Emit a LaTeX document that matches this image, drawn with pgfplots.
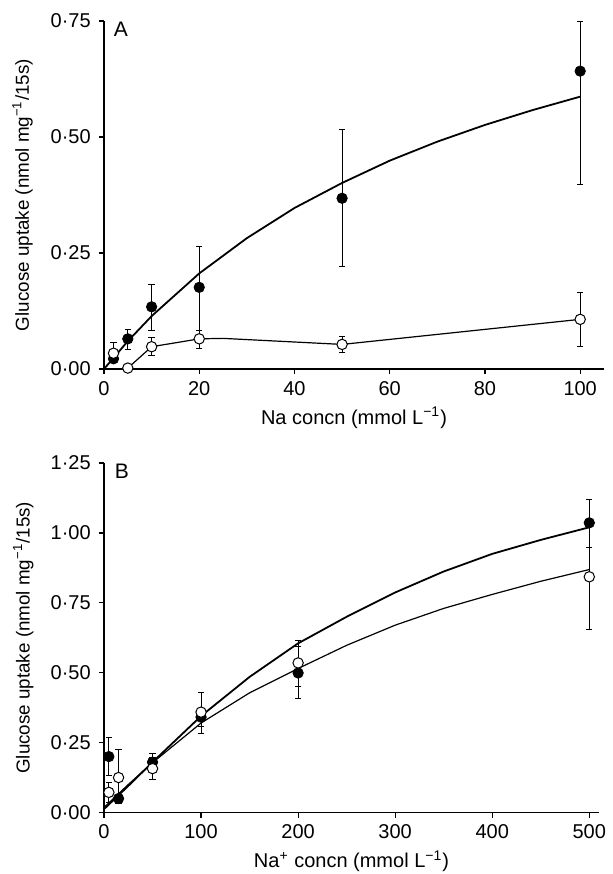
\documentclass[border=0pt]{standalone}
\usepackage{fontspec}
\setmainfont{Liberation Sans}
\usepackage{pgfplots}
\pgfplotsset{compat=1.18}

\pgfplotsset{
  panel/.style={
    scale only axis,
    axis lines=left,
    axis line style={-, line width=0.75pt},
    tick align=outside,
    major tick length=2.6pt,
    tick style={black, line width=0.6pt},
    ticklabel style={font=\fontsize{10}{12}\selectfont},
    yticklabel style={xshift=-0.5pt},
    /pgf/number format/assume math mode=true,
    xmin=0, ymin=0,
    clip=false,
    ylabel={Glucose uptake (nmol mg\textsuperscript{−1}/15s)},
    ylabel style={font=\fontsize{9.4}{11}\selectfont,
      at={(axis description cs:-0.163,0.5)}, anchor=center},
    xlabel style={font=\fontsize{10}{12}\selectfont,
      at={(axis description cs:0.5,0)}, anchor=base, yshift=-27.5pt},
  },
  fitline/.style={black, line width=0.9pt, no marks},
  thinline/.style={black, line width=0.6pt, no marks},
  bars/.style={
    only marks,
    error bars/y dir=both,
    error bars/y explicit,
    error bars/error bar style={black, line width=0.5pt},
    error bars/error mark options={rotate=90, mark size=1.6pt, line width=0.5pt, black},
  },
  filled/.style={bars, mark=*, mark size=2.6pt, mark options={fill=black, draw=black}},
  hollow/.style={bars, mark=*, mark size=2.6pt, mark options={fill=white, draw=black, line width=0.5pt}},
}

\begin{document}
\begin{tikzpicture}

% ---- panel A ----
\begin{axis}[panel,
    width=250pt, height=174pt,
    xmax=105, ymax=0.75,
    xtick={0,20,40,60,80,100},
    ytick={0,0.25,0.5,0.75},
    yticklabels={0·00,0·25,0·50,0·75},
    xlabel={Na concn (mmol L\textsuperscript{−1})},
]
\addplot[fitline] coordinates {
  (0,0) (5,0.060) (10,0.114) (20,0.206) (30,0.282) (40,0.347)
  (50,0.401) (60,0.449) (70,0.490) (80,0.526) (90,0.558) (100,0.587)};
\addplot[thinline] coordinates {
  (5,0.002) (10,0.048) (20,0.065) (25,0.066) (50,0.053) (100,0.107)};
\addplot[filled] coordinates {
  (2,0.022) += (0,0.010) -= (0,0.008)
  (5,0.065) += (0,0.021) -= (0,0.022)
  (10,0.134) += (0,0.049) -= (0,0.050)
  (20,0.176) += (0,0.087) -= (0,0.107)
  (50,0.368) += (0,0.149) -= (0,0.148)
  (100,0.642) += (0,0.108) -= (0,0.244)};
\addplot[hollow] coordinates {
  (2,0.034) += (0,0.024) -= (0,0.015)
  (5,0.002) += (0,0) -= (0,0)
  (10,0.048) += (0,0.020) -= (0,0.018)
  (20,0.065) += (0,0.017) -= (0,0.020)
  (50,0.053) += (0,0.017) -= (0,0.017)
  (100,0.107) += (0,0.057) -= (0,0.059)};
\node[font=\fontsize{10.5}{12}\selectfont] at (rel axis cs:0.034,0.976) {A};
\end{axis}

% ---- panel B ----
\begin{axis}[panel,
    at={(0,-221.75pt)},
    width=247.5pt, height=174.75pt,
    xmax=510, ymax=1.25,
    xtick={0,100,200,300,400,500},
    ytick={0,0.25,0.5,0.75,1,1.25},
    yticklabels={0·00,0·25,0·50,0·75,1·00,1·25},
    xlabel={Na\textsuperscript{+} concn (mmol L\textsuperscript{−1})},
]
\addplot[fitline] coordinates {
  (0,0.012) (25,0.095) (50,0.180) (100,0.345) (150,0.485) (200,0.605)
  (250,0.700) (300,0.787) (350,0.862) (400,0.925) (450,0.975) (500,1.020)};
\addplot[thinline] coordinates {
  (0,0.018) (25,0.100) (50,0.178) (100,0.320) (150,0.428) (200,0.515)
  (250,0.598) (300,0.670) (350,0.730) (400,0.780) (450,0.827) (500,0.869)};
\addplot[filled] coordinates {
  (5,0.200) += (0,0.069) -= (0,0.067)
  (15,0.050) += (0,0.011) -= (0,0.018)
  (50,0.180) += (0,0.032) -= (0,0.062)
  (100,0.341) += (0,0.030) -= (0,0.057)
  (200,0.499) += (0,0.115) -= (0,0.090)
  (500,1.036) += (0,0.084) -= (0,0.087)};
\addplot[hollow] coordinates {
  (5,0.072) += (0,0.036) -= (0,0.036)
  (15,0.125) += (0,0.101) -= (0,0.080)
  (50,0.157) += (0,0.040) -= (0,0.040)
  (100,0.359) += (0,0.071) -= (0,0.050)
  (200,0.535) += (0,0.060) -= (0,0.085)
  (500,0.843) += (0,0.106) -= (0,0.187)};
\node[font=\fontsize{10.5}{12}\selectfont] at (rel axis cs:0.036,0.977) {B};
\end{axis}

% page frame matching the reference margins
\pgfresetboundingbox
\useasboundingbox (-52pt,-252.5pt) rectangle (254pt,184.5pt);
\end{tikzpicture}
\end{document}
